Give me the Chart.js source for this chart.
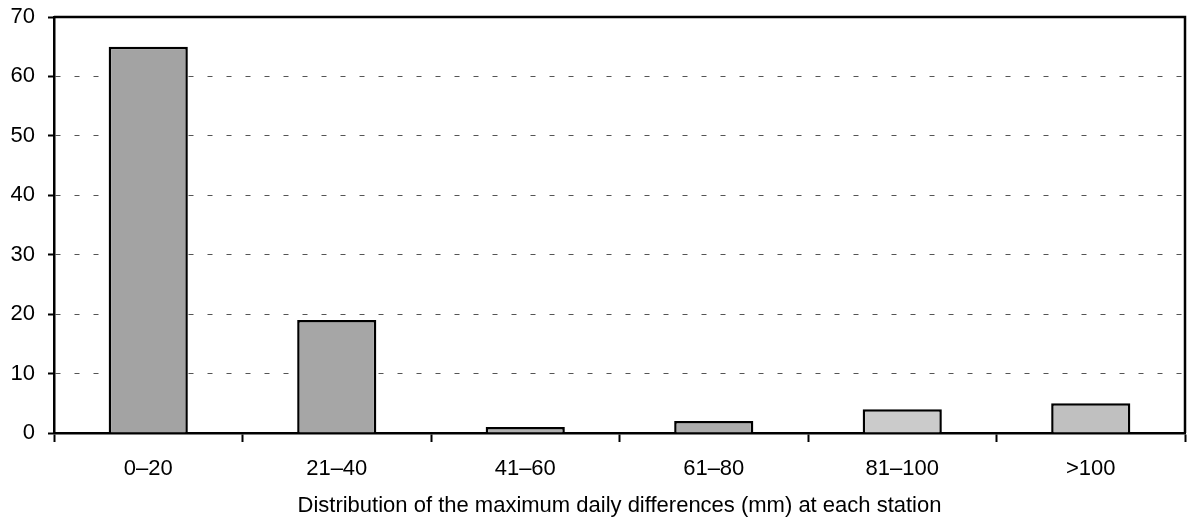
<!DOCTYPE html>
<html>
<head>
<meta charset="utf-8">
<script src="https://cdn.jsdelivr.net/npm/chart.js@4.4.0/dist/chart.umd.min.js"></script>
<style>
  html, body { margin:0; padding:0; background:#fff; }
  #wrap { width:1188px; height:525px; }
</style>
</head>
<body>
<div id="wrap"><canvas id="chart" width="1188" height="525"></canvas></div>
<script>
// categories and values
const categories = ['0\u201320', '21\u201340', '41\u201360', '61\u201380', '81\u2013100', '>100'];
const stations = [65, 19, 1, 2, 4, 5];
const barColors = ['#a3a3a3', '#a6a6a6', '#b0b0b0', '#adadad', '#cbcbcb', '#c0c0c0'];
const yTicks = [0, 10, 20, 30, 40, 50, 60, 70];
const xTitle = 'Distribution of the maximum daily differences (mm) at each station';

// frame on top and right of the plot
const frame = {
    id: 'frame',
    afterDraw(chart){
        let a = chart.chartArea;
        let c = chart.ctx;
        c.save();
        c.strokeStyle = '#000';
        c.lineWidth = 2.5;
        c.beginPath();
        c.moveTo(a.left, a.top);
        c.lineTo(a.right, a.top);
        c.lineTo(a.right, a.bottom);
        c.stroke();
        c.restore();
    }
};

Chart.defaults.font.family = '"Liberation Sans", Arial, sans-serif';
Chart.defaults.color = '#000';

let ctx = document.getElementById('chart');
let chart = new Chart(ctx, {
    type: 'bar',
    plugins: [frame],
    data: {
        labels: categories,
        datasets: [{
            data: stations,
            backgroundColor: barColors,
            borderColor: '#000',
            borderWidth: 2.5,
            borderSkipped: 'bottom',
            categoryPercentage: 0.42,
            barPercentage: 1
        }]
    },
    options: {
        responsive: false,
        animation: false,
        layout: { padding: { top: 17, right: 3, left: 0, bottom: 0 } },
        plugins: {
            legend: { display: false },
            tooltip: { enabled: false }
        },
        scales: {
            x: {
                afterFit(s){ s.height = 92; s.paddingLeft = 0; s.paddingRight = 0; },
                grid: { offset: true, drawOnChartArea: false, tickLength: 9, tickWidth: 2, tickColor: '#000' },
                border: { color: '#000', width: 2.5 },
                ticks: { font: { size: 22 }, padding: 14 },
                title: { display: true, text: xTitle, font: { size: 22 }, padding: { top: 0, bottom: 6 } }
            },
            y: {
                min: 0, max: 70,
                afterBuildTicks(s){ s.ticks = yTicks.map(v => ({ value: v })); },
                afterFit(s){ s.width = 54; s.paddingTop = 0; s.paddingBottom = 0; },
                grid: {
                    color: '#555', lineWidth: 1,
                    tickLength: 6, tickColor: '#000', tickWidth: 2,
                    tickBorderDash: []
                },
                border: { color: '#000', width: 2.5, dash: [5, 14] },
                ticks: { font: { size: 22 }, padding: 13 }
            }
        }
    }
});
</script>
</body>
</html>
